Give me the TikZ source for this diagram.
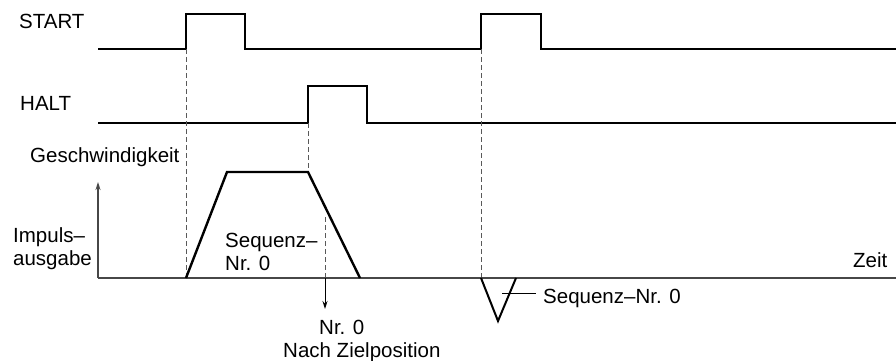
\documentclass[tikz,border=0pt]{standalone}
\usepackage{fontspec}
\setmainfont{Liberation Sans}
\usetikzlibrary{arrows.meta}
\begin{document}
\begin{tikzpicture}[x=1pt,y=-1pt,
  signal/.style={line width=2.4pt,black,miter limit=10},
  axisline/.style={line width=1.5pt,black!72},
  guide/.style={line width=0.9pt,black!65,dash pattern=on 5pt off 3pt},
  lbl/.style={inner sep=0pt,anchor=base west,font=\fontsize{20.5}{24}\selectfont},
  tip/.style={-{Stealth[length=8pt,width=5pt]}}]
\useasboundingbox (0,0) rectangle (896,361);
% coordinates
\coordinate (s0) at (98,49);
\coordinate (s1) at (186,49);
\coordinate (s2) at (481,49);
\coordinate (h0) at (98,123);
\coordinate (h1) at (308,123);
\coordinate (o) at (98,278);
\coordinate (yt) at (98,182);
\coordinate (xe) at (896,278);
\coordinate (t0) at (186,278);
\coordinate (t1) at (227,172);
\coordinate (t2) at (308,172);
\coordinate (t3) at (360,278);
\coordinate (d0) at (325,217);
\coordinate (d1) at (325,278);
\coordinate (d2) at (325,309);
\coordinate (v0) at (481,278);
\coordinate (v1) at (498,321);
\coordinate (v2) at (516,278);
\coordinate (l0) at (502,293);
\coordinate (l1) at (536,293);
% signals
\draw[signal] (s0) -- (s1) -- (186,14) -- (245,14) -- (245,49) -- (s2) -- (481,14) -- (541,14) -- (541,49) -- (896,49);
\draw[signal] (h0) -- (h1) -- (308,86) -- (367,86) -- (367,123) -- (896,123);
% guides
\draw[guide] (s1) -- (t0);
\draw[guide] (h1) -- (t2);
\draw[guide] (d0) -- (d1);
\draw[guide] (s2) -- (v0);
% axes
\draw[axisline,tip] (o) -- (yt);
\draw[axisline] (o) -- (xe);
\draw[line width=1pt,black,tip] (d1) -- (d2);
% speed profile
\draw[signal,line join=miter] (t0) -- (t1) -- (t2) -- (t3);
\draw[signal,line width=2pt] (v0) -- (v1) -- (v2);
\draw[line width=1pt] (l0) -- (l1);
% labels
\node[lbl] (start) at (19,29) {START};
\node[lbl] (halt) at (20,110) {HALT};
\node[lbl] (gesch) at (30,162) {Geschwindigkeit};
\node[lbl] (imp1) at (13,242) {Impuls–};
\node[lbl] (imp2) at (13,265) {ausgabe};
\node[lbl] (seq1) at (225,247) {Sequenz–};
\node[lbl] (seq2) at (225,270) {Nr. 0};
\node[lbl] (nr) at (319,334) {Nr. 0};
\node[lbl] (ziel) at (283,357) {Nach Zielposition};
\node[lbl] (zeit) at (853,267) {Zeit};
\node[lbl] (seq3) at (543,303) {Sequenz–Nr. 0};
\end{tikzpicture}
\end{document}
